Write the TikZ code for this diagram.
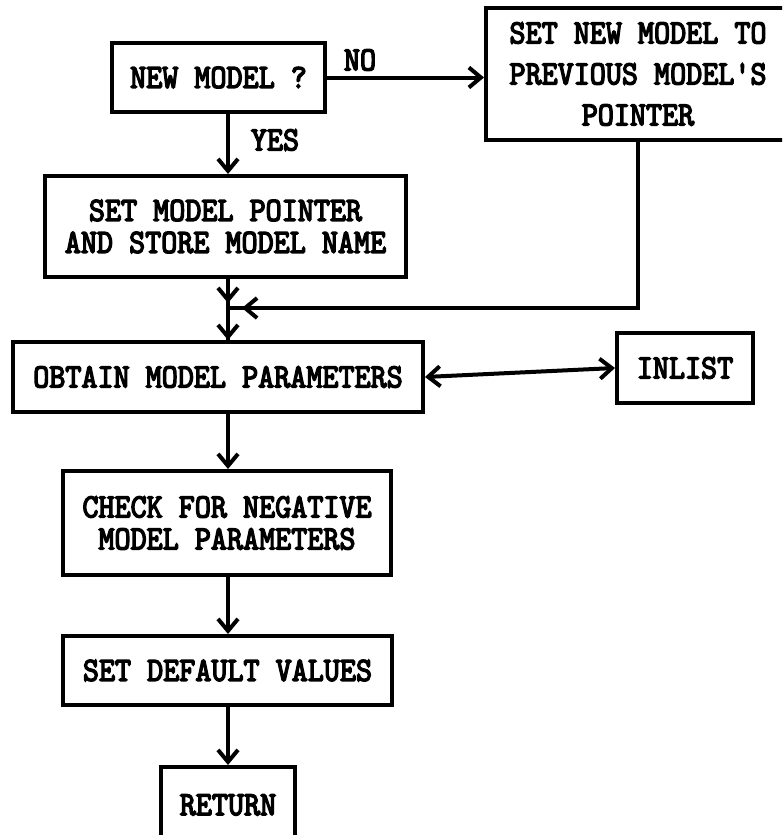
\documentclass[tikz,border=0pt]{standalone}
\usepackage{fontspec}
\usetikzlibrary{arrows.meta}
\newfontfamily\typewr[FakeBold=4,FakeStretch=0.9]{lmmono10-regular.otf}
\tikzset{
  blk/.style={draw, line width=2pt, font=\typewr\fontsize{17}{16}\selectfont, align=center, inner sep=0pt},
  lbl/.style={font=\typewr\fontsize{17}{16}\selectfont},
  ln/.style={line width=2pt},
  arr/.style={line width=2pt, -{Straight Barb[length=6pt,width=10pt]}},
  darr/.style={line width=2pt, {Straight Barb[length=6pt,width=10pt]}-{Straight Barb[length=6pt,width=10pt]}}
}

\begin{document}
\begin{tikzpicture}[x=0.5pt,y=-0.5pt]
\useasboundingbox (0,0) rectangle (782,835);
\clip (0,0) rectangle (782,835);
\coordinate (col) at (228,0);
\coordinate (merge) at (228,308);
  \node[blk,minimum width=106.5pt,minimum height=34.5pt] (q) at (218.5,77.5) {NEW MODEL ?};
  \node[blk,minimum width=152pt,minimum height=66pt,font=\typewr\fontsize{17}{20.5}\selectfont] (prev) at (638,74) {SET NEW MODEL TO\\PREVIOUS MODEL'S\\POINTER};
  \node[blk,minimum width=180.5pt,minimum height=50.5pt] (setptr) at (225.5,226.5) {SET MODEL POINTER\\AND STORE MODEL NAME};
  \node[blk,minimum width=205pt,minimum height=35pt] (obtain) at (218,377) {OBTAIN MODEL PARAMETERS};
  \node[blk,minimum width=68pt,minimum height=35pt] (inlist) at (685,368) {INLIST};
  \node[blk,minimum width=164pt,minimum height=52pt] (check) at (227,523) {CHECK FOR NEGATIVE\\MODEL PARAMETERS};
  \node[blk,minimum width=164.5pt,minimum height=34.5pt] (defaults) at (227.5,670.5) {SET DEFAULT VALUES};
  \node[blk,minimum width=67pt,minimum height=38pt] (ret) at (228,805) {RETURN};
  \node[lbl] (no) at (360,60) {NO};
  \node[lbl] (yes) at (275,140) {YES};
\draw[arr] (q.east) -- (prev.west |- q.east);
\draw[arr] (q.south -| col) -- (setptr.north -| col);
\draw[ln] (setptr.south -| col) -- (obtain.north -| col);
\draw[arr,shorten >=2.5pt] (setptr.south -| col) -- (merge);
\draw[arr] (merge) -- (obtain.north -| col);
\draw[ln] (prev.south) |- (merge);
\draw[arr,shorten >=7pt] (prev.south) |- (merge);
\draw[darr] (obtain.east) -- (inlist.west);
\draw[arr] (obtain.south -| col) -- (check.north -| col);
\draw[arr] (check.south -| col) -- (defaults.north -| col);
\draw[arr] (defaults.south -| col) -- (ret.north -| col);
\end{tikzpicture}
\end{document}
